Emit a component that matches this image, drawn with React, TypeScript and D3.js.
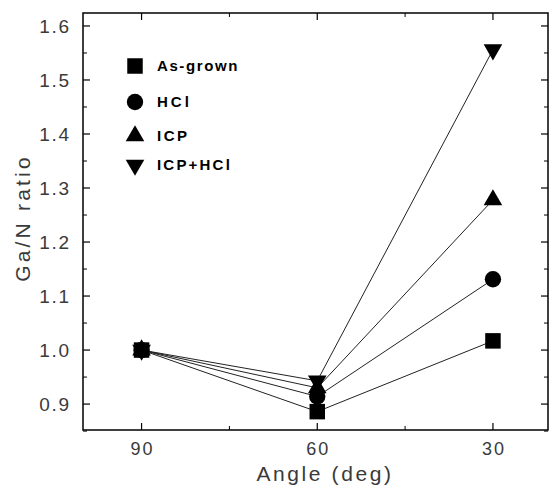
import React from "react";
import * as d3 from "d3";

const angles = [90, 60, 30];
const asGrown = [1.0, 0.886, 1.017];
const hcl = [1.0, 0.914, 1.131];
const icp = [1.0, 0.93, 1.278];
const icpHcl = [1.0, 0.943, 1.556];
const seriesNames = ["As-grown", "HCl", "ICP", "ICP+HCl"];
const yTicks = [0.9, 1.0, 1.1, 1.2, 1.3, 1.4, 1.5, 1.6];
const yMinor = [0.85, 0.95, 1.05, 1.15, 1.25, 1.35, 1.45, 1.55];
const xTicks = [90, 60, 30];
const xMinor = [75, 45];

const W = 551, H = 489;
const L = 83, R = 548, T = 13, B = 430;

export default function App() {
  const x = d3.scaleLinear().domain([100, 20.6]).range([L, R]);
  const y = d3.scaleLinear().domain([0.852, 1.624]).range([B, T]);
  const data = [asGrown, hcl, icp, icpHcl];
  const symbols = [d3.symbolSquare, d3.symbolCircle, d3.symbolTriangle, d3.symbolTriangle];
  const sizes = [240, 210, 150, 150];
  const rot = [0, 0, 0, 180];
  const line = d3.line<number>().x((_, i) => x(angles[i])).y((v) => y(v));
  const sym = (i: number) => d3.symbol().type(symbols[i]).size(sizes[i])() as string;
  const legY = [66, 102, 136, 165];
  const legSpacing = [1.6, 3, 2.5, 2.2];
  const font = "Arial, 'Liberation Sans', sans-serif";
  return (
    <svg width={W} height={H} style={{ position: "absolute", left: 0, top: 0 }}>
      <rect width={W} height={H} fill="#fff" />
      {/* frame */}
      <rect x={L} y={T} width={R - L} height={B - T} fill="none" stroke="#000" strokeWidth={1.5} />
      {/* y ticks */}
      {yTicks.map((t) => (
        <g key={"y" + t}>
          <line x1={L} x2={L + 7} y1={y(t)} y2={y(t)} stroke="#000" strokeWidth={1.2} />
          <line x1={R} x2={R - 7} y1={y(t)} y2={y(t)} stroke="#000" strokeWidth={1.2} />
          <text x={71} y={y(t)} dy="0.36em" textAnchor="end" fontFamily={font} fontSize={19} letterSpacing={1.8} fill="#3a3a3a">
            {t.toFixed(1)}
          </text>
        </g>
      ))}
      {yMinor.map((t) => (
        <g key={"ym" + t}>
          <line x1={L} x2={L + 4} y1={y(t)} y2={y(t)} stroke="#000" strokeWidth={1} />
          <line x1={R} x2={R - 4} y1={y(t)} y2={y(t)} stroke="#000" strokeWidth={1} />
        </g>
      ))}
      {xTicks.map((t) => (
        <g key={"x" + t}>
          <line x1={x(t)} x2={x(t)} y1={B} y2={B - 7} stroke="#000" strokeWidth={1.2} />
          <line x1={x(t)} x2={x(t)} y1={T} y2={T + 7} stroke="#000" strokeWidth={1.2} />
          <text x={x(t) + 1} y={455} textAnchor="middle" fontFamily={font} fontSize={18} letterSpacing={2} fill="#3a3a3a">
            {t}
          </text>
        </g>
      ))}
      {xMinor.map((t) => (
        <g key={"xm" + t}>
          <line x1={x(t)} x2={x(t)} y1={B} y2={B - 4} stroke="#000" strokeWidth={1} />
          <line x1={x(t)} x2={x(t)} y1={T} y2={T + 4} stroke="#000" strokeWidth={1} />
        </g>
      ))}
      <text
        transform={`translate(30, 218) rotate(-90)`}
        textAnchor="middle"
        fontFamily={font}
        fontSize={21}
        letterSpacing={3.2}
        fill="#3a3a3a"
      >
        Ga/N ratio
      </text>
      <text x={325} y={481} textAnchor="middle" fontFamily={font} fontSize={21} letterSpacing={2.6} fill="#3a3a3a">
        Angle (deg)
      </text>
      {/* lines */}
      {data.map((s, i) => (
        <path key={"l" + i} d={line(s) as string} fill="none" stroke="#222" strokeWidth={1} />
      ))}
      {/* markers */}
      {data.map((s, i) =>
        s.map((v, j) => (
          <path
            key={"m" + i + "-" + j}
            d={sym(i)}
            transform={`translate(${x(angles[j])}, ${y(v)}) rotate(${rot[i]})`}
            fill="#000"
          />
        ))
      )}
      {/* legend */}
      {seriesNames.map((n, i) => (
        <g key={"lg" + i}>
          <path d={sym(i)} transform={`translate(135, ${legY[i]}) rotate(${rot[i]})`} fill="#000" />
          <text
            x={157}
            y={legY[i]}
            dy="0.36em"
            fontFamily={font}
            fontSize={15}
            fontWeight="bold"
            letterSpacing={legSpacing[i]}
            fill="#000"
          >
            {n}
          </text>
        </g>
      ))}
    </svg>
  );
}
